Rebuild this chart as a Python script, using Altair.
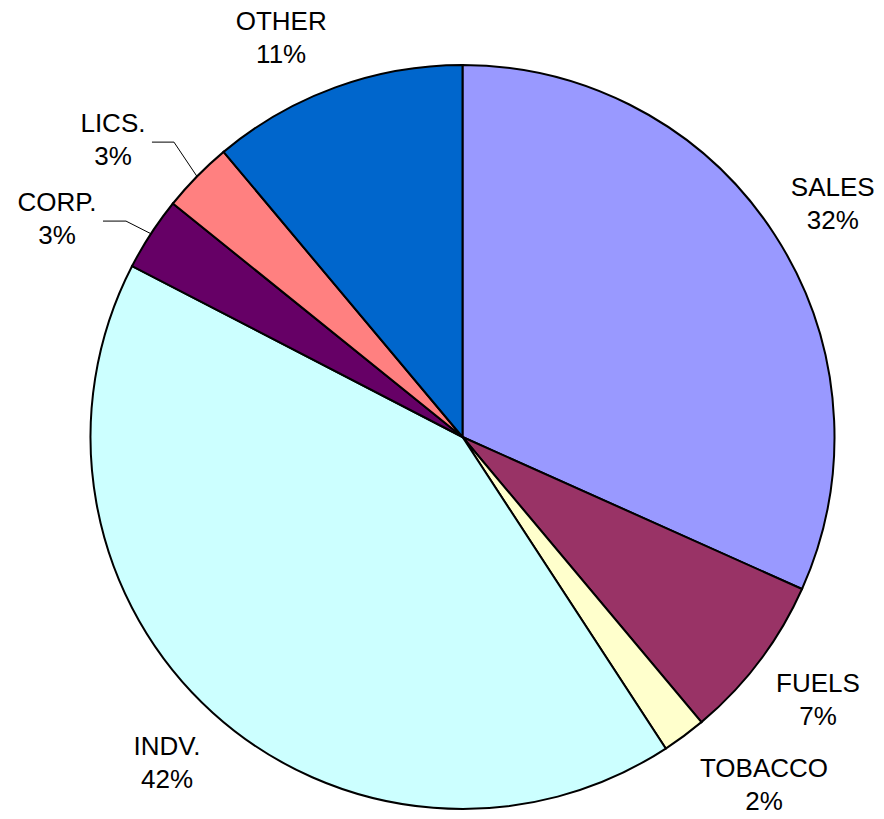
import math
import altair as alt
import pandas as pd

categories = ["SALES", "FUELS", "TOBACCO", "INDV.", "CORP.", "LICS.", "OTHER"]
values = [31.7, 7.2, 1.9, 41.8, 3.2, 3.1, 11.1]
colors = ["#9999FF", "#993366", "#FFFFCC", "#CCFFFF", "#660066", "#FF8080", "#0066CC"]

# layout (chart coordinates)
CX, CY = 454.5, 429.0
R = 372
LABEL_R = 440
label_nudge = {
    "SALES": (1, -2), "FUELS": (4.5, -10), "TOBACCO": (39.5, -13.5),
    "INDV.": (-0.4, -8.4), "CORP.": (-37, 14.5), "LICS.": (-35.5, 3.3),
    "OTHER": (-31, 6.5),
}
leader_start = {"CORP.": (46, 10), "LICS.": (39, 10)}
leader_elbow = {"CORP.": (69, 10), "LICS.": (61, 10)}

total = sum(values)
rows, lines = [], []
cum = 0.0
for i, (c, v) in enumerate(zip(categories, values)):
    mid = (cum + v / 2) / total * 2 * math.pi
    cum += v
    bx = CX + LABEL_R * math.sin(mid) + label_nudge[c][0]
    by = CY - LABEL_R * math.cos(mid) + label_nudge[c][1]
    rows.append({"cat": c, "value": v, "idx": i,
                 "label": f"{c}\n{round(v)}%", "lx": bx, "ly": by})
    if c in leader_start:
        sx, sy = leader_start[c]
        ex, ey = leader_elbow[c]
        lines.append({"cat": c, "o": 0, "x": bx + sx, "y": by + sy})
        lines.append({"cat": c, "o": 1, "x": bx + ex, "y": by + ey})
        lines.append({"cat": c, "o": 2, "x": CX + R * math.sin(mid), "y": CY - R * math.cos(mid)})

df = pd.DataFrame(rows)
ldf = pd.DataFrame(lines)

pie = alt.Chart(df).mark_arc(radius=R, stroke="black", strokeWidth=2).encode(
    theta=alt.Theta("value:Q", stack=True),
    color=alt.Color("cat:N", scale=alt.Scale(domain=categories, range=colors), legend=None),
    order=alt.Order("idx:Q"),
    x=alt.value(CX),
    y=alt.value(CY),
)

text = alt.Chart(df).mark_text(
    align="center", baseline="alphabetic", lineBreak="\n", lineHeight=33,
    font="Liberation Sans", fontSize=26, color="black",
).encode(
    x=alt.X("lx:Q", scale=None),
    y=alt.Y("ly:Q", scale=None),
    text="label:N",
)

leaders = alt.Chart(ldf).mark_line(color="black", strokeWidth=1).encode(
    x=alt.X("x:Q", scale=None),
    y=alt.Y("y:Q", scale=None),
    detail="cat:N",
    order="o:Q",
)

chart = alt.layer(pie, leaders, text).properties(
    width=868, height=803,
    autosize=alt.AutoSizeParams(type="none"),
    padding=0,
).configure_view(stroke=None)

chart.save("out.html", embed_options={"renderer": "svg", "actions": False})
